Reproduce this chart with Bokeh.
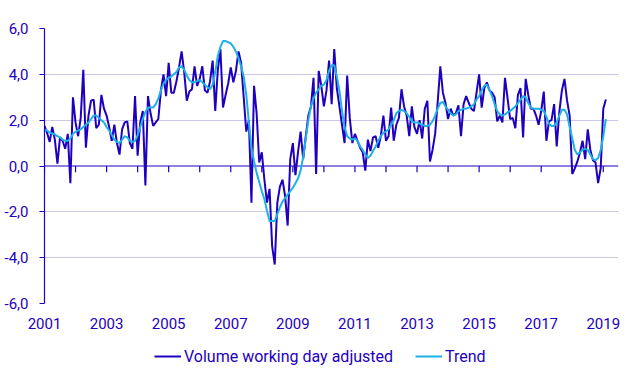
from bokeh.plotting import figure
from bokeh.layouts import column
from bokeh.models import Range1d, FixedTicker, Span, Legend, LegendItem, ColumnDataSource
from bokeh.embed import file_html
from bokeh.resources import INLINE

# ---- data (monthly, Jan 2001 - Feb 2019) ----
start_year = 2001
volume = [
    1.75, 1.45, 1.05, 1.7, 1.15, 0.1, 1.25, 1.1, 0.75, 1.4, -0.75, 3.0,      # 2001
    1.9, 1.3, 2.1, 4.2, 0.8, 2.2, 2.85, 2.9, 1.65, 1.8, 3.1, 2.5,            # 2002
    2.2, 1.7, 1.1, 1.8, 1.0, 0.5, 1.6, 1.9, 1.95, 1.0, 0.75, 3.05,           # 2003
    0.45, 1.9, 2.4, -0.85, 3.05, 2.3, 1.75, 1.9, 2.05, 3.3, 4.0, 3.05,       # 2004
    4.5, 3.2, 3.2, 3.7, 4.3, 5.0, 4.1, 2.85, 3.25, 3.35, 4.35, 3.5,          # 2005
    3.8, 4.35, 3.3, 3.2, 3.7, 4.6, 2.4, 4.2, 5.1, 2.55, 3.1, 3.6,            # 2006
    4.3, 3.65, 4.15, 5.0, 4.5, 3.0, 1.5, 2.0, -1.6, 3.5, 2.3, 0.15,          # 2007
    0.6, -0.6, -1.6, -1.0, -3.5, -4.3, -1.6, -0.9, -0.6, -1.3, -2.6, 0.3,    # 2008
    1.0, -0.4, 0.6, 1.5, 0.3, 1.3, 2.2, 2.6, 3.85, -0.35, 4.15, 3.5,         # 2009
    2.6, 3.3, 4.6, 2.7, 5.1, 3.4, 2.6, 1.8, 1.0, 3.95, 2.1, 1.0,             # 2010
    1.4, 1.1, 0.8, 0.6, -0.2, 1.15, 0.65, 1.25, 1.3, 0.8, 1.3, 2.2,          # 2011
    1.1, 1.3, 2.55, 1.1, 1.8, 2.1, 3.35, 2.6, 2.2, 1.3, 2.6, 1.7,            # 2012
    1.4, 2.0, 1.2, 2.5, 2.85, 0.2, 0.7, 1.4, 2.8, 4.35, 3.2, 2.75,           # 2013
    2.05, 2.5, 2.2, 2.3, 2.65, 1.3, 2.7, 3.05, 2.75, 2.5, 2.4, 3.2,          # 2014
    4.0, 2.55, 3.4, 3.65, 3.3, 3.2, 3.0, 1.95, 2.2, 1.9, 3.85, 2.95,         # 2015
    2.05, 2.1, 1.65, 3.1, 3.4, 1.25, 3.8, 3.1, 2.5, 2.5, 2.2, 1.8,           # 2016
    2.4, 3.25, 1.1, 1.95, 2.0, 2.7, 0.85, 2.35, 3.3, 3.8, 2.85, 2.2,         # 2017
    -0.35, -0.1, 0.2, 0.6, 1.1, 0.3, 1.6, 0.7, 0.25, 0.15, -0.75, -0.1,      # 2018
    2.5, 2.9,                                                                # 2019
]
trend = [
    1.6, 1.55, 1.45, 1.42, 1.38, 1.3, 1.25, 1.15, 1.1, 1.1, 1.2, 1.4,        # 2001
    1.5, 1.55, 1.6, 1.7, 1.8, 1.9, 2.05, 2.2, 2.2, 2.1, 2.0, 1.9,            # 2002
    1.7, 1.55, 1.35, 1.15, 1.05, 1.0, 1.15, 1.3, 1.25, 1.1, 1.05, 1.1,       # 2003
    1.35, 1.7, 2.05, 2.35, 2.55, 2.55, 2.55, 2.7, 2.95, 3.3, 3.6, 3.75,      # 2004
    3.85, 3.9, 4.0, 4.1, 4.3, 4.35, 4.2, 3.95, 3.75, 3.65, 3.65, 3.7,        # 2005
    3.75, 3.65, 3.55, 3.45, 3.35, 3.55, 4.1, 4.8, 5.2, 5.45, 5.45, 5.4,      # 2006
    5.35, 5.2, 5.0, 4.7, 4.35, 3.9, 3.1, 1.9, 0.8, 0.2, -0.3, -0.7,          # 2007
    -1.1, -1.45, -1.95, -2.4, -2.4, -2.4, -2.1, -1.8, -1.55, -1.4, -1.25, -1.1,  # 2008
    -0.95, -0.75, -0.55, -0.2, 0.4, 1.2, 2.0, 2.6, 2.95, 3.2, 3.35, 3.5,     # 2009
    3.55, 3.75, 4.15, 4.4, 4.4, 3.9, 3.3, 2.4, 1.7, 1.3, 1.2, 1.15,          # 2010
    1.2, 1.1, 0.85, 0.7, 0.5, 0.35, 0.45, 0.65, 0.85, 1.1, 1.3, 1.45,        # 2011
    1.5, 1.6, 1.8, 2.0, 2.3, 2.4, 2.45, 2.4, 2.3, 2.15, 1.95, 1.9,           # 2012
    1.9, 1.85, 1.8, 1.75, 1.75, 1.8, 1.95, 2.2, 2.5, 2.75, 2.8, 2.6,         # 2013
    2.45, 2.3, 2.2, 2.25, 2.4, 2.45, 2.5, 2.5, 2.55, 2.6, 2.7, 2.9,          # 2014
    3.05, 3.3, 3.5, 3.55, 3.3, 3.05, 2.7, 2.4, 2.25, 2.2, 2.25, 2.35,        # 2015
    2.4, 2.5, 2.6, 2.75, 2.9, 3.05, 3.0, 2.75, 2.55, 2.5, 2.5, 2.5,          # 2016
    2.45, 2.4, 2.15, 1.85, 1.75, 1.75, 1.9, 2.2, 2.45, 2.45, 2.25, 1.7,      # 2017
    1.2, 0.7, 0.5, 0.6, 0.7, 0.75, 0.7, 0.5, 0.3, 0.25, 0.35, 0.7,           # 2018
    1.3, 2.05,                                                               # 2019
]
tick_years = list(range(2001, 2020))
label_years = list(range(2001, 2020, 2))
y_ticks = [-6, -4, -2, 0, 2, 4, 6]
y_tick_labels = ["-6,0", "-4,0", "-2,0", "0,0", "2,0", "4,0", "6,0"]
series_names = ["Volume working day adjusted", "Trend"]

# ---- styling ----
DARK = "#1E00BE"
LIGHT = "#1EB1E6"
GRID = "#cbc8e8"
FONT = "Roboto"

months = [start_year + i / 12 for i in range(len(volume))]
src = ColumnDataSource(dict(x=months, volume=volume, trend=trend))

p = figure(width=642, height=340, output_backend="svg", toolbar_location=None,
           x_range=Range1d(2001, 2019.49), y_range=Range1d(-6, 6),
           min_border_left=44, min_border_right=24, min_border_top=28,
           min_border_bottom=37)
p.outline_line_color = None
p.background_fill_color = "white"
p.border_fill_color = "white"

# grids
p.xgrid.visible = False
p.ygrid.ticker = FixedTicker(ticks=[t for t in y_ticks if t != 0])
p.ygrid.grid_line_color = GRID
p.ygrid.grid_line_width = 1

# zero line
zero = Span(location=0, dimension="width", line_color=DARK, line_width=1.2, level="underlay")
p.add_layout(zero)

# year ticks hanging from the zero line
tick_src = ColumnDataSource(dict(x=tick_years, y0=[0] * len(tick_years), y1=[-0.27] * len(tick_years)))
p.segment(x0="x", y0="y0", x1="x", y1="y1", source=tick_src, line_color=DARK, line_width=1.2)

# series
r1 = p.line("x", "volume", source=src, line_color=DARK, line_width=2)
r2 = p.line("x", "trend", source=src, line_color=LIGHT, line_width=2)

# y axis
ya = p.yaxis[0]
ya.ticker = FixedTicker(ticks=y_ticks)
ya.major_label_overrides = {float(t): s for t, s in zip(y_ticks, y_tick_labels)}
ya.axis_line_color = DARK
ya.axis_line_width = 1.2
ya.major_tick_line_color = DARK
ya.major_tick_in = 0
ya.major_tick_out = 5
ya.minor_tick_line_color = None
ya.major_label_standoff = 11
ya.major_label_text_font = FONT
ya.major_label_text_font_size = "15px"
ya.major_label_text_color = DARK

# x axis (labels only, at the bottom)
xa = p.xaxis[0]
xa.ticker = FixedTicker(ticks=label_years)
xa.axis_line_color = None
xa.major_tick_line_color = None
xa.minor_tick_line_color = None
xa.major_tick_in = 0
xa.major_tick_out = 0
xa.major_label_standoff = 14
xa.major_label_text_font = FONT
xa.major_label_text_font_size = "15px"
xa.major_label_text_color = DARK

# ---- legend strip below the chart ----
lg = figure(width=642, height=37, output_backend="svg", toolbar_location=None,
            x_axis_location=None, y_axis_location=None,
            x_range=Range1d(0, 1), y_range=Range1d(0, 1),
            min_border_left=0, min_border_right=0, min_border_top=0, min_border_bottom=0)
lg.grid.visible = False
lg.outline_line_color = None
lg.border_fill_color = "white"
# same series, out of this strip's view: only their legend swatches show
k1 = lg.line("x", "volume", source=src, line_color=DARK, line_width=2)
k2 = lg.line("x", "trend", source=src, line_color=LIGHT, line_width=2)
legend = Legend(items=[LegendItem(label=series_names[0], renderers=[k1]),
                       LegendItem(label=series_names[1], renderers=[k2])],
                orientation="horizontal", location=(110, 11),
                glyph_width=27, glyph_height=20, label_standoff=3, spacing=22,
                padding=0, margin=0, border_line_color=None,
                background_fill_alpha=0,
                label_text_font=FONT, label_text_font_size="16px",
                label_text_color=DARK)
lg.add_layout(legend)

layout = column(p, lg, spacing=0)
open("out.html", "w").write(file_html(layout, INLINE))
